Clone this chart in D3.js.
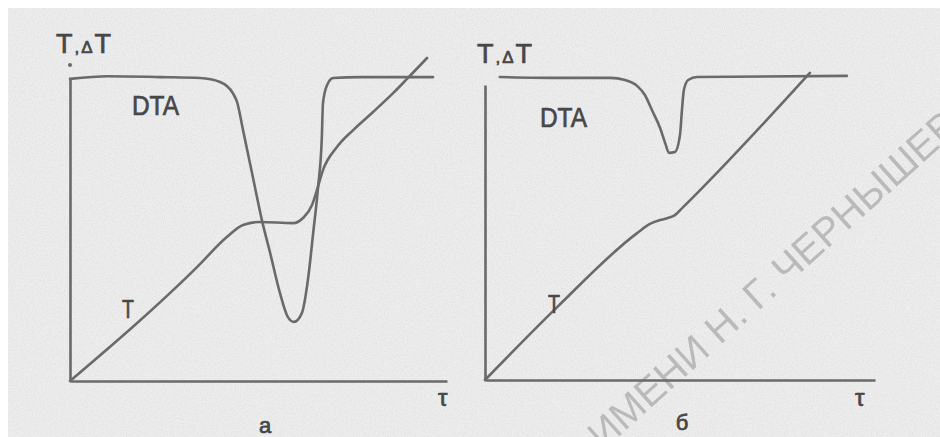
<!DOCTYPE html>
<meta charset="utf-8">
<html>
<script src="https://d3js.org/d3.v7.min.js"></script>
<style>
    body { margin: 0; background: #fff; }
    text { font-family: "Liberation Sans", Arial, sans-serif; }
    .lab { fill: #474747; stroke: #474747; stroke-width: 0.7; }
</style>
<body>
<div id="chart"></div>
<script>

    // Panel a: DTA curve with a deep endothermic dip, T curve with a plateau
    var dtaTauA = [0, 10, 24, 34.5, 39.8, 43.2, 44.3, 45.9, 48.5, 50.9, 53.1, 55.7, 57.8, 59.4, 61.5, 63.1, 64.5, 65.8, 66.8, 67.1, 68.2, 69.8, 76.9, 96.3];
    var dtaValA = [99.7, 100.6, 100.3, 100, 98.7, 95.0, 92.1, 82.8, 67.3, 53.1, 42.2, 29.0, 21.1, 19.5, 22.4, 33.3, 48.8, 64.0, 80.5, 91.7, 97.7, 100, 100.3, 100.3];
    var tTauA = [0, 33.7, 41.6, 45.9, 50.4, 59.2, 61.8, 64.2, 65.5, 67.1, 70.8, 75.1, 80.4, 85.7, 89.4, 94.7];
    var tValA = [0, 37.6, 47.5, 51.5, 52.5, 52.1, 53.8, 58.1, 63.0, 69.6, 77.2, 82.8, 88.8, 95.0, 99.7, 106.6];

    // Panel b: small DTA dip, T curve with a slight kink
    var dtaTauB = [3.8, 19.2, 32.1, 35.9, 39.0, 41.0, 42.8, 44.9, 46.2, 47.2, 48.7, 50.0, 50.5, 51.0, 52.1, 54.4, 92.8];
    var dtaValB = [102.7, 102.4, 102.4, 101.7, 99.7, 96.6, 91.5, 85.4, 80.3, 77.0, 77.3, 83.1, 91.5, 98.3, 101.7, 102.7, 103.1];
    var tTauB = [0, 18.5, 39.0, 42.3, 44.9, 46.9, 48.7, 50.8, 83.3];
    var tValB = [0, 24.7, 49.8, 52.9, 54.2, 54.9, 55.9, 58.6, 104.1];

    var panelNames = ["а", "б"];
    var yLabel = ["T", ",", "Δ", "T"];
    var xLabel = "τ";
    var watermark = "ИМЕНИ Н. Г. ЧЕРНЫШЕВСКОГО";

    var W = 940, H = 437;
    var ink = "#6a6a6a";

    var svg = d3.select("#chart").append("svg")
        .attr("width", W)
        .attr("height", H);

    // paper texture
    var defs = svg.append("defs");
    var f = defs.append("filter").attr("id", "grain")
        .attr("x", 0).attr("y", 0).attr("width", 1).attr("height", 1);
    f.append("feTurbulence")
        .attr("type", "fractalNoise")
        .attr("baseFrequency", "0.9 0.6")
        .attr("numOctaves", 2)
        .attr("seed", 7);
    f.append("feColorMatrix")
        .attr("type", "matrix")
        .attr("values", "0 0 0 0 0.45  0 0 0 0 0.45  0 0 0 0 0.45  0 0 0 1.4 -0.55");

    svg.append("rect")
        .attr("x", 8).attr("y", 8)
        .attr("width", W - 8).attr("height", H - 8)
        .attr("fill", "#ededed");
    svg.append("rect")
        .attr("x", 8).attr("y", 8)
        .attr("width", W - 8).attr("height", H - 8)
        .attr("filter", "url(#grain)")
        .attr("opacity", 0.3);

    // library watermark (drawn under the curves)
    svg.append("text")
        .attr("transform", "translate(603,451) rotate(-42)")
        .attr("font-size", 40)
        .style("fill", "#b2b2b2")
        .attr("opacity", 0.85)
        .text(watermark);

    var panels = [
        { name: panelNames[0], dta: [dtaTauA, dtaValA], t: [tTauA, tValA],
          x: d3.scaleLinear().domain([0, 100]).range([70, 447]),
          y: d3.scaleLinear().domain([0, 100]).range([381, 78]),
          yLab: [56, 53], dtaLab: [132, 115], tLab: [122, 318], xLab: [438, 406], nameLab: [265, 433] },
        { name: panelNames[1], dta: [dtaTauB, dtaValB], t: [tTauB, tValB],
          x: d3.scaleLinear().domain([0, 100]).range([485, 875]),
          y: d3.scaleLinear().domain([0, 100]).range([380, 85]),
          yLab: [477, 63], dtaLab: [540, 127], tLab: [548, 313], xLab: [855, 406], nameLab: [682, 430] }
    ];

    panels.forEach(function (p) {
        var g = svg.append("g");

        // axes without ticks
        g.append("g")
            .attr("transform", "translate(0," + p.y(0) + ")")
            .call(d3.axisBottom(p.x).ticks(0).tickSizeOuter(0));
        g.append("g")
            .attr("transform", "translate(" + p.x(0) + ",0)")
            .call(d3.axisLeft(p.y).ticks(0).tickSizeOuter(0));
        g.selectAll(".domain")
            .attr("stroke", ink)
            .attr("stroke-width", 2.6);

        var line = d3.line()
            .x(function (d) { return p.x(d[0]); })
            .y(function (d) { return p.y(d[1]); })
            .curve(d3.curveMonotoneX);

        [p.dta, p.t].forEach(function (s) {
            g.append("path")
                .datum(d3.zip(s[0], s[1]))
                .attr("fill", "none")
                .attr("stroke", ink)
                .attr("stroke-width", 2.6)
                .attr("stroke-linecap", "round")
                .attr("stroke-linejoin", "round")
                .attr("d", line);
        });

        // axis label T,ΔT
        var yl = g.append("text")
            .attr("class", "lab")
            .attr("x", p.yLab[0]).attr("y", p.yLab[1]);
        yl.selectAll("tspan")
            .data(yLabel)
            .enter().append("tspan")
            .attr("font-size", function (d) { return d == "T" ? 27 : 17; })
            .attr("dx", function (d, i) { return i == 0 ? 0 : 2; })
            .text(function (d) { return d; });

        g.append("text")
            .attr("class", "lab")
            .attr("x", p.dtaLab[0]).attr("y", p.dtaLab[1])
            .attr("font-size", 27)
            .attr("textLength", 47)
            .attr("lengthAdjust", "spacingAndGlyphs")
            .text("DTA");
        g.append("text")
            .attr("class", "lab")
            .attr("x", p.tLab[0]).attr("y", p.tLab[1])
            .attr("font-size", 26)
            .attr("textLength", 12)
            .attr("lengthAdjust", "spacingAndGlyphs")
            .text("T");
        g.append("text")
            .attr("class", "lab")
            .attr("x", p.xLab[0]).attr("y", p.xLab[1])
            .attr("font-size", 24)
            .text(xLabel);
        g.append("text")
            .attr("class", "lab")
            .attr("x", p.nameLab[0]).attr("y", p.nameLab[1])
            .attr("font-size", 22)
            .attr("text-anchor", "middle")
            .text(p.name);
    });

    // small dot above the first y axis
    svg.append("circle")
        .attr("cx", panels[0].x(0)).attr("cy", 65)
        .attr("r", 2).attr("fill", ink);

</script>
</body>
</html>
